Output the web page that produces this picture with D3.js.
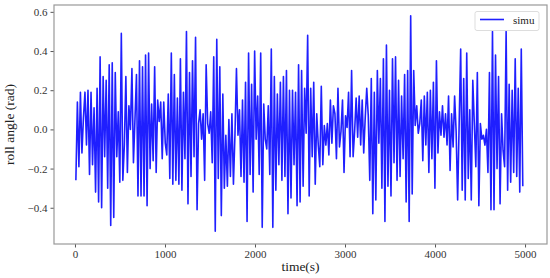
<!DOCTYPE html>
<html>
<head>
<meta charset="utf-8">
<script src="https://cdn.jsdelivr.net/npm/d3@7"></script>
<style>
  body { margin: 0; background: #fff; }
</style>
</head>
<body>
<div id="chart"></div>
<script>
// roll angle, one value per turning point of the trace
const rollAngle = [
  -0.26, 0.14, -0.19, 0.19, -0.12, 0.06, 0.19, -0.08, 0.20, -0.23,
  0.19, -0.18, 0.11, -0.32, 0.21, -0.37, 0.37, -0.40, 0.27, -0.14,
  0.25, -0.30, 0.33, -0.49, 0.34, -0.45, 0.29, -0.14, 0.09, -0.27,
  0.49, -0.26, -0.08, 0.27, -0.22, 0.12, 0.00, 0.31, -0.17, 0.05,
  0.28, -0.34, 0.35, -0.34, 0.32, -0.34, 0.38,
  -0.39, 0.39, -0.20, 0.13, -0.16, 0.32, -0.22, 0.15, 0.04, 0.14,
  -0.15, 0.14, -0.07, -0.13, 0.18, -0.25, 0.39, -0.28, 0.28, -0.26,
  0.16, -0.28, 0.36, -0.31, 0.19, -0.15, 0.50, -0.38, 0.29, -0.24,
  0.35, -0.14, 0.47, -0.41, 0.03, 0.10, -0.05, 0.08, -0.26, 0.33,
  0.03, -0.02, 0.09, -0.17, 0.37, -0.52, 0.46, -0.25, 0.32, -0.44,
  0.18, -0.30, -0.03, -0.29, 0.05, -0.24, 0.08, -0.28, -0.03, 0.31,
  -0.03, 0.10, -0.24, 0.15, -0.27, 0.24, -0.47, 0.39, -0.23, 0.23,
  -0.32, 0.40, -0.05, 0.17, -0.23, 0.39, -0.50, 0.13, -0.05, -0.10,
  0.12, -0.23, 0.41, -0.50, 0.27, -0.31, 0.18, -0.18, 0.24, -0.26,
  0.27, -0.24, 0.30, -0.43, 0.20, -0.35, 0.20, -0.18,
  0.19, -0.39, 0.33, -0.37, 0.30, -0.29, 0.21, -0.02, 0.48, -0.34,
  0.21, -0.14, 0.24, -0.28, 0.08, -0.08, -0.19, 0.22, -0.18, 0.02,
  -0.08, 0.03, -0.13, 0.15, -0.07, 0.12, 0.08, -0.15, 0.21, -0.09,
  -0.01, 0.15, -0.22, 0.07, 0.01, 0.19, -0.14, 0.30, -0.14, -0.01,
  0.16, -0.04, 0.17, -0.08, 0.15, -0.12, 0.06, 0.21, 0.07, -0.26,
  0.26, -0.43, 0.19, -0.36, 0.30, -0.07,
  0.26, -0.30, 0.36, -0.47, 0.43, -0.29, 0.20, -0.34, 0.36, -0.17,
  0.37, -0.26, 0.25, -0.24, 0.17, -0.15, 0.28, -0.37, 0.30, -0.47,
  0.58, -0.33, 0.30, 0.02, 0.12, -0.02, 0.03, 0.15, -0.16, 0.17,
  -0.08, 0.19, -0.22, 0.20, -0.15, 0.24, -0.30, 0.35, -0.12, 0.09,
  -0.03, 0.12, -0.04, 0.08, -0.08, 0.17, -0.21, 0.08, -0.09, 0.17,
  -0.01,
  -0.36, 0.03, 0.41, -0.31, 0.26, -0.36, 0.39, -0.25, 0.10, -0.36,
  0.25, 0.03, -0.19, 0.29, -0.39, 0.03, -0.05, -0.03, -0.08, 0.00,
  -0.22, 0.29, -0.41, 0.50, -0.41, 0.38, -0.20, 0.27, -0.38, 0.08,
  -0.11, -0.19, 0.50, -0.31, 0.23, -0.27, 0.20, -0.22, 0.36, -0.24,
  0.21, -0.32, 0.41, -0.29
]
const startTime = 10     // s
const endTime = 4975     // s

const xTicks = [0, 1000, 2000, 3000, 4000, 5000]
const yTicks = [-0.4, -0.2, 0.0, 0.2, 0.4, 0.6]
const seriesName = 'simu'

const gc = {
    width: 550,
    height: 278,
    plot: { left: 54, right: 547, top: 5, bottom: 244 },
    font: '"Liberation Serif", "Times New Roman", serif',
    tick: { size: 3.5, font: '11px', color: '#333' },
    label: { font: '13.5px' },
    frame: '#999',
    line: { color: '#1f1fff', width: 1.6 }
}

function drawAxes(svg, x, y) {
    const p = gc.plot

    const xAxis = svg.append('g')
        .attr('transform', 'translate(0,' + p.bottom + ')')
        .call(d3.axisBottom(x).tickValues(xTicks).tickSize(gc.tick.size).tickPadding(3).tickFormat(d3.format('d')))
    const yAxis = svg.append('g')
        .attr('transform', 'translate(' + p.left + ',0)')
        .call(d3.axisLeft(y).tickValues(yTicks).tickSize(gc.tick.size).tickPadding(3)
            .tickFormat(d => d.toFixed(1).replace('-', '\u2212')))

    ;[xAxis, yAxis].forEach(a => {
        a.select('.domain').remove()
        a.selectAll('line').attr('stroke', '#555')
        a.selectAll('text')
            .style('font-family', gc.font)
            .style('font-size', gc.tick.font)
            .attr('fill', gc.tick.color)
    })

    // frame
    svg.append('rect')
        .attr('x', p.left)
        .attr('y', p.top)
        .attr('width', p.right - p.left)
        .attr('height', p.bottom - p.top)
        .attr('fill', 'none')
        .attr('stroke', gc.frame)
        .attr('stroke-width', 1.2)

    svg.append('text')
        .attr('x', (p.left + p.right) / 2)
        .attr('y', 271)
        .attr('text-anchor', 'middle')
        .style('font-family', gc.font)
        .style('font-size', gc.label.font)
        .attr('fill', '#222')
        .text('time(s)')

    svg.append('text')
        .attr('transform', 'translate(14,' + (p.top + p.bottom) / 2 + ') rotate(-90)')
        .attr('text-anchor', 'middle')
        .style('font-family', gc.font)
        .style('font-size', gc.label.font)
        .attr('fill', '#222')
        .text('roll angle (rad)')
}

function drawLegend(svg) {
    const g = svg.append('g').attr('transform', 'translate(475,11.5)')
    g.append('rect')
        .attr('width', 64)
        .attr('height', 19)
        .attr('rx', 2)
        .attr('fill', '#fff')
        .attr('fill-opacity', 0.8)
        .attr('stroke', '#ddd')
    g.append('line')
        .attr('x1', 5).attr('x2', 29)
        .attr('y1', 8).attr('y2', 8)
        .attr('stroke', gc.line.color)
        .attr('stroke-width', gc.line.width)
    g.append('text')
        .attr('x', 38)
        .attr('y', 12)
        .style('font-family', gc.font)
        .style('font-size', '11px')
        .attr('fill', '#222')
        .text(seriesName)
}

function diagram(node) {
    const p = gc.plot
    const svg = d3.select(node).append('svg')
        .attr('width', gc.width)
        .attr('height', gc.height)

    const step = (endTime - startTime) / (rollAngle.length - 1)
    const data = rollAngle.map((v, i) => ({ t: startTime + i * step, v: v }))

    const x = d3.scaleLinear().domain([-233, 5244]).range([p.left, p.right])
    const y = d3.scaleLinear().domain([-0.585, 0.635]).range([p.bottom, p.top])

    svg.append('path')
        .datum(data)
        .attr('fill', 'none')
        .attr('stroke', gc.line.color)
        .attr('stroke-width', gc.line.width)
        .attr('stroke-linejoin', 'round')
        .attr('d', d3.line().x(d => x(d.t)).y(d => y(d.v)))

    drawAxes(svg, x, y)
    drawLegend(svg)
}

diagram(document.getElementById('chart'))
</script>
</body>
</html>
